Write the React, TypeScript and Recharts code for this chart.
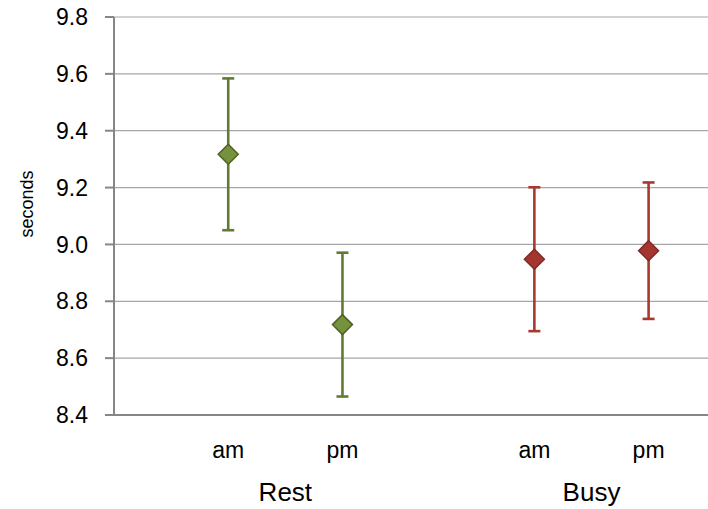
import React from 'react';
import { ScatterChart, Scatter, XAxis, YAxis, CartesianGrid, ErrorBar } from 'recharts';

const sessions = ['am', 'pm', 'am', 'pm'];
const groups = ['Rest', 'Busy'];
// horizontal slot of each session on the x axis
const slots = [1, 2, 3.68, 4.68];

const restMean = [9.317, 8.718];
const restErr = [0.267, 0.253];
const busyMean = [8.948, 8.978];
const busyErr = [0.253, 0.24];

const yTicks = [8.4, 8.6, 8.8, 9.0, 9.2, 9.4, 9.6, 9.8];

const restData = restMean.map((v, i) => ({ x: slots[i], y: v, err: restErr[i] }));
const busyData = busyMean.map((v, i) => ({ x: slots[i + 2], y: v, err: busyErr[i] }));
const groupTicks = [(slots[0] + slots[1]) / 2, (slots[2] + slots[3]) / 2];
// invisible anchor points so the group axis has something to scale
const groupData = groupTicks.map((g) => ({ x: g, y: 9 }));

const font = '"Liberation Sans", Arial, sans-serif';

const diamond = (fill: string, stroke: string) => (p: any) => {
    const { cx, cy } = p;
    const r = 10;
    return (
        <polygon
            points={`${cx},${cy - r} ${cx + r},${cy} ${cx},${cy + r} ${cx - r},${cy}`}
            fill={fill}
            stroke={stroke}
            strokeWidth={1.5}
        />
    );
};

export default function App() {
    return (
        <div style={{ position: 'absolute', left: 0, top: 0 }}>
            <ScatterChart
                width={708}
                height={509}
                margin={{ top: 17, right: 0, left: 0, bottom: 0 }}
            >
                <CartesianGrid vertical={false} stroke="#a6a6a6" strokeWidth={1.2} />
                <XAxis
                    type="number"
                    dataKey="x"
                    domain={[0, 5.2]}
                    ticks={slots}
                    tickFormatter={(v: number) => sessions[slots.indexOf(v)] ?? ''}
                    height={46}
                    tickSize={0}
                    tickMargin={27}
                    tickLine={false}
                    axisLine={{ stroke: '#868686', strokeWidth: 2 }}
                    tick={{ fill: '#000', fontSize: 23, fontFamily: font }}
                    allowDataOverflow
                />
                <XAxis
                    xAxisId="grp"
                    type="number"
                    dataKey="x"
                    domain={[0, 5.2]}
                    ticks={groupTicks}
                    tickFormatter={(v: number) => groups[groupTicks.indexOf(v)] ?? ''}
                    height={48}
                    tickSize={0}
                    tickMargin={22}
                    tickLine={false}
                    axisLine={false}
                    tick={{ fill: '#000', fontSize: 26, fontFamily: font }}
                    allowDataOverflow
                />
                <YAxis
                    type="number"
                    dataKey="y"
                    domain={[8.4, 9.8]}
                    ticks={yTicks}
                    tickFormatter={(v: number) => v.toFixed(1)}
                    width={114}
                    tickSize={9}
                    tickMargin={17}
                    axisLine={{ stroke: '#868686', strokeWidth: 2 }}
                    tickLine={{ stroke: '#868686', strokeWidth: 2 }}
                    tick={{ fill: '#000', fontSize: 23, fontFamily: font }}
                    allowDataOverflow
                    label={{
                        content: (p: any) => {
                            const vb = p.viewBox || { x: 0, y: 17, width: 114, height: 398 };
                            const cx = vb.x + 27;
                            const cy = vb.y + vb.height / 2 - 12;
                            return (
                                <text
                                    x={cx}
                                    y={cy}
                                    transform={`rotate(-90, ${cx}, ${cy})`}
                                    textAnchor="middle"
                                    dominantBaseline="central"
                                    fontSize={18}
                                    fontFamily={font}
                                    fill="#000"
                                >
                                    seconds
                                </text>
                            );
                        },
                    }}
                />
                <Scatter
                    name="groups"
                    xAxisId="grp"
                    data={groupData}
                    isAnimationActive={false}
                    legendType="none"
                    shape={() => <g />}
                />
                <Scatter
                    name="Rest"
                    data={restData}
                    isAnimationActive={false}
                    shape={diamond('#76923c', '#4f6228')}
                >
                    <ErrorBar dataKey="err" direction="y" width={6} stroke="#617c32" strokeWidth={2.6} />
                </Scatter>
                <Scatter
                    name="Busy"
                    data={busyData}
                    isAnimationActive={false}
                    shape={diamond('#a3372f', '#822a23')}
                >
                    <ErrorBar dataKey="err" direction="y" width={6} stroke="#a9392f" strokeWidth={2.6} />
                </Scatter>
            </ScatterChart>
        </div>
    );
}
